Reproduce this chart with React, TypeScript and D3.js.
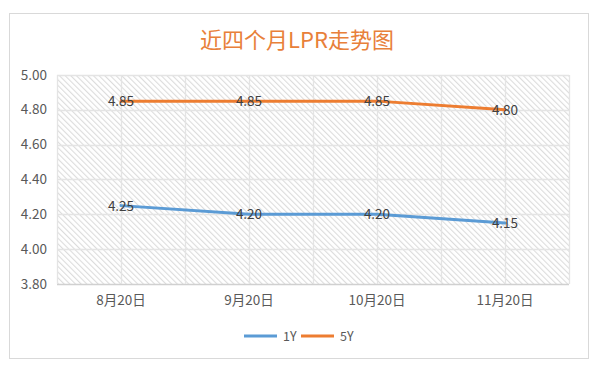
import React, { useEffect, useRef } from 'react';
import * as d3 from 'd3';

const categories = ['8月20日', '9月20日', '10月20日', '11月20日'];
const series1Y = [4.25, 4.2, 4.2, 4.15];
const series5Y = [4.85, 4.85, 4.85, 4.8];
const yTicks = [3.8, 4.0, 4.2, 4.4, 4.6, 4.8, 5.0];
const seriesNames = ['1Y', '5Y'];
const seriesColors = ['#5B9BD5', '#ED7D31'];

const W = 594;
const H = 368;
const FONT = '"Noto Sans CJK SC", "Noto Sans", sans-serif';

function drawChart(svgEl: SVGSVGElement) {
  const svg = d3.select(svgEl);
  svg.selectAll('*').remove();

  const plot = { left: 57, right: 569, top: 75, bottom: 284 };

  const x = d3.scaleBand<string>()
    .domain(categories)
    .range([plot.left, plot.right]);
  const y = d3.scaleLinear()
    .domain([3.8, 5.0])
    .range([plot.bottom, plot.top]);

  // hatch pattern (downward diagonal)
  const defs = svg.append('defs');
  const pat = defs.append('pattern')
    .attr('id', 'hatch')
    .attr('patternUnits', 'userSpaceOnUse')
    .attr('width', 4)
    .attr('height', 4)
    .attr('patternTransform', 'rotate(-45)');
  pat.append('rect').attr('width', 4).attr('height', 4).attr('fill', '#fff');
  pat.append('line')
    .attr('x1', 0.6).attr('y1', 0).attr('x2', 0.6).attr('y2', 4)
    .attr('stroke', '#d9d9d9').attr('stroke-width', 1);

  // background + outer border
  svg.append('rect').attr('width', W).attr('height', H).attr('fill', '#fff');
  svg.append('rect')
    .attr('x', 9.5).attr('y', 13.5)
    .attr('width', 579).attr('height', 345)
    .attr('fill', '#fff')
    .attr('stroke', '#d9d9d9');

  // title
  svg.append('text')
    .attr('x', 297).attr('y', 48)
    .attr('text-anchor', 'middle')
    .attr('font-family', FONT)
    .attr('font-size', 22)
    .attr('fill', '#E8803A')
    .text('近四个月LPR走势图');

  // plot area hatch
  svg.append('rect')
    .attr('x', plot.left).attr('y', plot.top)
    .attr('width', plot.right - plot.left).attr('height', plot.bottom - plot.top)
    .attr('fill', 'url(#hatch)');

  // horizontal gridlines
  svg.append('g')
    .selectAll('line')
    .data(yTicks)
    .join('line')
    .attr('x1', plot.left).attr('x2', plot.right)
    .attr('y1', d => Math.round(y(d)) + 0.5).attr('y2', d => Math.round(y(d)) + 0.5)
    .attr('stroke', d => (d === 3.8 ? '#d0d0d0' : '#e4e4e4'))
    .attr('stroke-width', 1.3);

  // vertical gridlines at band edges and centres
  const bw = x.bandwidth();
  const vx: number[] = [];
  categories.forEach(c => {
    vx.push(x(c)!);
    vx.push(x(c)! + bw / 2);
  });
  vx.push(plot.right);
  svg.append('g')
    .selectAll('line')
    .data(vx)
    .join('line')
    .attr('x1', d => Math.round(d) + 0.5).attr('x2', d => Math.round(d) + 0.5)
    .attr('y1', plot.top).attr('y2', plot.bottom)
    .attr('stroke', '#e4e4e4')
    .attr('stroke-width', 1.3);

  // y labels
  svg.append('g')
    .selectAll('text')
    .data(yTicks)
    .join('text')
    .attr('x', 47)
    .attr('y', d => y(d) + 4.5)
    .attr('text-anchor', 'end')
    .attr('font-family', FONT)
    .attr('font-size', 13.5)
    .attr('fill', '#595959')
    .text(d => d.toFixed(2));

  // x labels
  svg.append('g')
    .selectAll('text')
    .data(categories)
    .join('text')
    .attr('x', d => x(d)! + bw / 2)
    .attr('y', 305)
    .attr('text-anchor', 'middle')
    .attr('font-family', FONT)
    .attr('font-size', 13.5)
    .attr('fill', '#595959')
    .text(d => d);

  // lines
  const allSeries = [series1Y, series5Y];
  const line = d3.line<number>()
    .x((_, i) => x(categories[i])! + bw / 2)
    .y(d => y(d));

  allSeries.forEach((s, si) => {
    svg.append('path')
      .attr('d', line(s))
      .attr('fill', 'none')
      .attr('stroke', seriesColors[si])
      .attr('stroke-width', 3)
      .attr('stroke-linejoin', 'round')
      .attr('stroke-linecap', 'round');
  });

  // data labels (centered on points)
  allSeries.forEach(s => {
    svg.append('g')
      .selectAll('text')
      .data(s)
      .join('text')
      .attr('x', (_, i) => x(categories[i])! + bw / 2)
      .attr('y', d => y(d) + 5)
      .attr('text-anchor', 'middle')
      .attr('font-family', FONT)
      .attr('font-size', 13.5)
      .attr('fill', '#404040')
      .text(d => d.toFixed(2));
  });

  // legend
  const legendX = [244, 301];
  const legendY = 336;
  seriesNames.forEach((n, i) => {
    svg.append('line')
      .attr('x1', legendX[i]).attr('x2', legendX[i] + 33)
      .attr('y1', legendY).attr('y2', legendY)
      .attr('stroke', seriesColors[i])
      .attr('stroke-width', 3);
    svg.append('text')
      .attr('x', legendX[i] + 39)
      .attr('y', legendY + 4.5)
      .attr('font-family', FONT)
      .attr('font-size', 12.5)
      .attr('fill', '#595959')
      .text(n);
  });
}

export default function App() {
  const ref = useRef<SVGSVGElement>(null);
  useEffect(() => {
    if (ref.current) drawChart(ref.current);
  }, []);
  return (
    <svg
      ref={ref}
      width={W}
      height={H}
      style={{ position: 'absolute', left: 0, top: 0, display: 'block' }}
    />
  );
}
